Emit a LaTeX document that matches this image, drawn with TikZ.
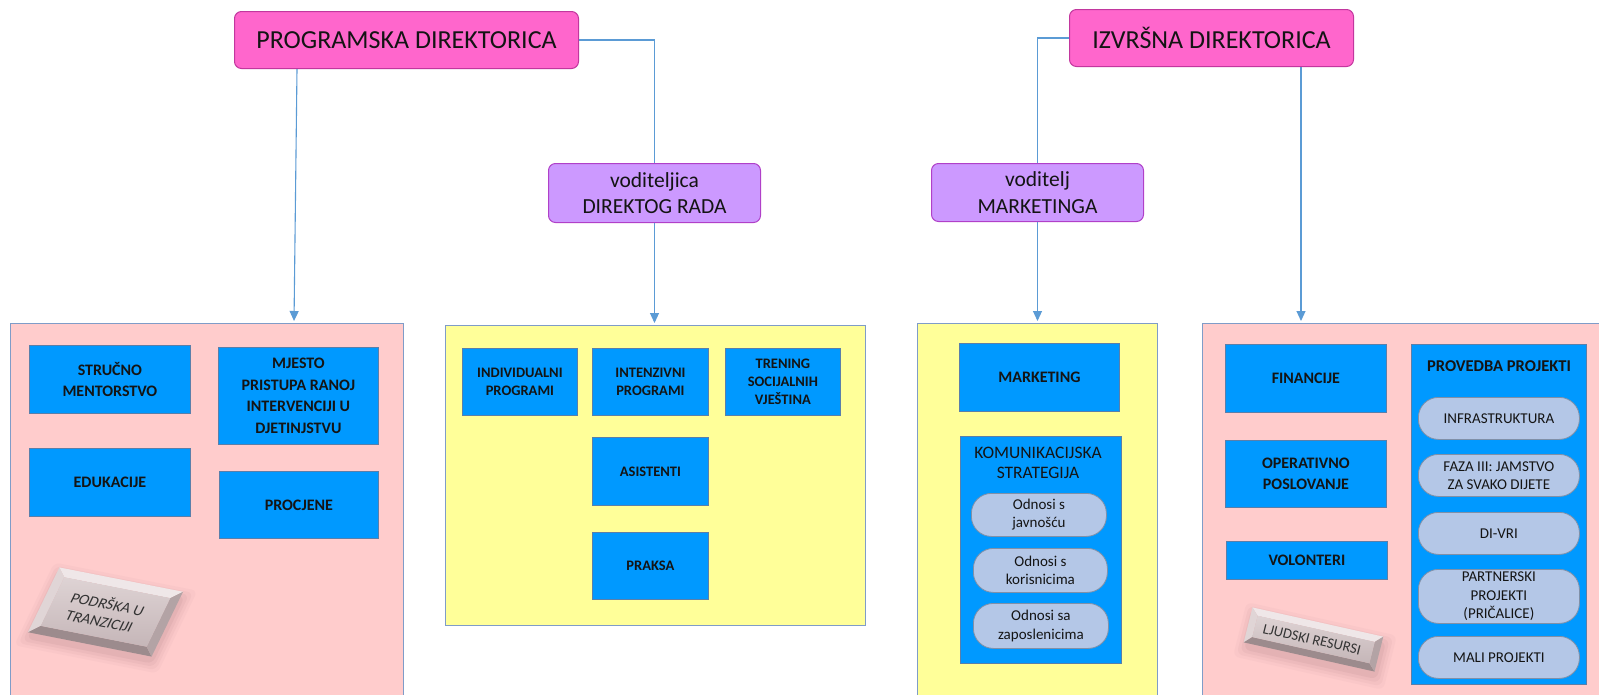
\documentclass[tikz,border=0pt]{standalone}
\usepackage{fontspec}
\setmainfont{Carlito}
\usetikzlibrary{arrows.meta,calc}
\definecolor{hdrfill}{HTML}{FF66CC}
\definecolor{hdrdraw}{HTML}{C2379E}
\definecolor{mgrfill}{HTML}{CC99FF}
\definecolor{mgrdraw}{HTML}{B040C8}
\definecolor{pinkpanel}{HTML}{FFCCCC}
\definecolor{yellowpanel}{HTML}{FFFF99}
\definecolor{panelborder}{HTML}{7F9CC8}
\definecolor{bluebox}{HTML}{0099FF}
\definecolor{blueborder}{HTML}{5A7FAA}
\definecolor{pillfill}{HTML}{B4C7E7}
\definecolor{pillborder}{HTML}{8090A8}
\definecolor{linkc}{HTML}{5B9BD5}
\definecolor{txt}{HTML}{141414}
\definecolor{btnlight}{HTML}{EFE7E8}
\definecolor{btnleft}{HTML}{E0D5D6}
\definecolor{btndark}{HTML}{9C8B8D}
\definecolor{btnright}{HTML}{B3A3A5}
\definecolor{btnfaceA}{HTML}{DED3D4}
\definecolor{btnfaceB}{HTML}{C5B6B8}
\definecolor{btnshadow}{HTML}{A87C80}
\newcommand\mybevel[9]{%
  % #1 center x, #2 center y, #3 a, #4 b, #5 c, #6 d, #7 w, #8 h, #9 bevel
  \begin{scope}[shift={(#1,#2)}, cm={#3,#4,#5,#6,(0,0)}]
    \foreach \s/\o in {10/0.05,7/0.07,4/0.09,1/0.12}{
      \fill[btnshadow, opacity=\o, rounded corners=6pt]
        ({-#7/2-\s+3},{-#8/2-\s+6}) rectangle ({#7/2+\s+3},{#8/2+\s+6});
    }
    \fill[btnlight] ({-#7/2},{-#8/2}) -- ({#7/2},{-#8/2}) -- ({#7/2-#9},{-#8/2+#9}) -- ({-#7/2+#9},{-#8/2+#9}) -- cycle;
    \fill[btnleft] ({-#7/2},{-#8/2}) -- ({-#7/2+#9},{-#8/2+#9}) -- ({-#7/2+#9},{#8/2-#9}) -- ({-#7/2},{#8/2}) -- cycle;
    \fill[btndark] ({-#7/2},{#8/2}) -- ({-#7/2+#9},{#8/2-#9}) -- ({#7/2-#9},{#8/2-#9}) -- ({#7/2},{#8/2}) -- cycle;
    \fill[btnright] ({#7/2},{-#8/2}) -- ({#7/2},{#8/2}) -- ({#7/2-#9},{#8/2-#9}) -- ({#7/2-#9},{-#8/2+#9}) -- cycle;
    \shade[top color=btnfaceA, bottom color=btnfaceB] ({-#7/2+#9},{-#8/2+#9}) rectangle ({#7/2-#9},{#8/2-#9});
  \end{scope}}
\begin{document}
\begin{tikzpicture}[x=1pt,y=-1pt,
  hdr/.style={draw=hdrdraw, fill=hdrfill, rounded corners=7pt, line width=1pt, inner sep=0pt, anchor=north west, text=txt, font=\fontsize{26}{30}\selectfont},
  mgr/.style={draw=mgrdraw, fill=mgrfill, rounded corners=7pt, line width=1pt, inner sep=0pt, anchor=north west, align=center, text=txt, font=\fontsize{21.5}{26.5}\selectfont},
  panel/.style={draw=panelborder, line width=1pt, inner sep=0pt, anchor=north west},
  bbox/.style={draw=blueborder, fill=bluebox, line width=0.8pt, inner sep=0pt, anchor=north west, align=center, text=txt},
  lbox/.style={bbox, font=\fontsize{16}{21.5}\selectfont\bfseries},
  mbox/.style={bbox, font=\fontsize{14.5}{18.3}\selectfont\bfseries},
  rbox/.style={bbox, font=\fontsize{16}{20.7}\selectfont\bfseries},
  pill/.style={draw=pillborder, fill=pillfill, line width=0.8pt, rounded corners=20pt, inner sep=0pt, anchor=north west, align=center, text=txt, font=\fontsize{15}{18.3}\selectfont},
  ctitle/.style={inner sep=0pt, align=center, text=txt},
  link/.style={draw=linkc, line width=1.1pt},
  arr/.style={link, -{Triangle[length=10pt,width=9pt]}, shorten >=2pt},
  btntext/.style={transform shape, inner sep=0pt, align=center, text=black!80}]
\clip (0,0) rectangle (1599,694);
\fill[white] (0,0) rectangle (1599,694);

% panels
\node[panel, fill=pinkpanel, minimum width=393pt, minimum height=400pt] (lp) at (10,323) {};
\node[panel, fill=yellowpanel, minimum width=420pt, minimum height=300pt] (mp) at (445,325) {};
\node[panel, fill=yellowpanel, minimum width=240pt, minimum height=400pt] (kp) at (917,323) {};
\node[panel, fill=pinkpanel, minimum width=420pt, minimum height=400pt] (rp) at (1202,323) {};

% headers
\node[hdr, minimum width=344pt, minimum height=57pt] (h1) at (234,11) {PROGRAMSKA DIREKTORICA};
\node[hdr, minimum width=284pt, minimum height=57pt] (h2) at (1069,9) {IZVRŠNA DIREKTORICA};
\node[mgr, minimum width=212pt, minimum height=59pt] (m1) at (548,163) {voditeljica\\DIREKTOG RADA};
\node[mgr, minimum width=212pt, minimum height=58pt] (m2) at (931,163) {voditelj\\MARKETINGA};

% left panel
\node[lbox, minimum width=161pt, minimum height=68pt] (strucno) at (29,345) {STRUČNO\\MENTORSTVO};
\node[lbox, minimum width=160pt, minimum height=97pt] (mjesto) at (218,347) {MJESTO\\PRISTUPA RANOJ\\INTERVENCIJI U\\DJETINJSTVU};
\node[lbox, minimum width=161pt, minimum height=68pt] (edukacije) at (29,448) {EDUKACIJE};
\node[lbox, minimum width=159pt, minimum height=67pt] (procjene) at (219,471) {PROCJENE};

% middle panel
\node[mbox, minimum width=115pt, minimum height=67pt] (indiv) at (462,348) {INDIVIDUALNI\\PROGRAMI};
\node[mbox, minimum width=116pt, minimum height=67pt] (intenz) at (592,348) {INTENZIVNI\\PROGRAMI};
\node[mbox, minimum width=115pt, minimum height=67pt] (trening) at (725,348) {TRENING\\SOCIJALNIH\\VJEŠTINA};
\node[mbox, minimum width=116pt, minimum height=68pt] (asist) at (592,437) {ASISTENTI};
\node[mbox, minimum width=116pt, minimum height=67pt] (praksa) at (592,532) {PRAKSA};

% marketing panel
\node[rbox, minimum width=160pt, minimum height=68pt] (mkt) at (959,343) {MARKETING};
\node[bbox, minimum width=161pt, minimum height=227pt] (kom) at (960,436) {};
\node[ctitle, font=\fontsize{17.5}{20}\selectfont] (komt) at (1038,463) {KOMUNIKACIJSKA\\STRATEGIJA};
\node[pill, minimum width=135pt, minimum height=43pt] (pjav) at (971,493) {Odnosi s\\javnošću};
\node[pill, minimum width=134pt, minimum height=44pt] (pkor) at (973,548) {Odnosi s\\korisnicima};
\node[pill, minimum width=135pt, minimum height=45pt] (pzap) at (973,603) {Odnosi sa\\zaposlenicima};

% right panel
\node[rbox, minimum width=161pt, minimum height=68pt] (fin) at (1225,344) {FINANCIJE};
\node[rbox, minimum width=161pt, minimum height=67pt] (oper) at (1225,440) {OPERATIVNO\\POSLOVANJE};
\node[rbox, minimum width=161pt, minimum height=38pt] (volont) at (1226,541) {VOLONTERI};
\node[bbox, minimum width=175pt, minimum height=340pt] (prov) at (1411,344) {};
\node[ctitle, font=\fontsize{16.5}{20}\selectfont\bfseries] (provt) at (1499,366) {PROVEDBA PROJEKTI};
\node[pill, minimum width=161pt, minimum height=42pt] (infra) at (1418,397) {INFRASTRUKTURA};
\node[pill, minimum width=161pt, minimum height=42pt] (faza) at (1418,454) {FAZA III: JAMSTVO\\ZA SVAKO DIJETE};
\node[pill, minimum width=161pt, minimum height=42pt] (divri) at (1418,512) {DI-VRI};
\node[pill, minimum width=161pt, minimum height=54pt] (partner) at (1418,569) {PARTNERSKI\\PROJEKTI\\(PRIČALICE)};
\node[pill, minimum width=161pt, minimum height=42pt] (mali) at (1418,636) {MALI PROJEKTI};

% bevel buttons
\mybevel{105.5}{612}{0.981}{-0.193}{0.436}{0.9}{126}{72}{9}
\begin{scope}[shift={(104,612)}, cm={0.981,-0.193,0.436,0.9,(0,0)}]
  \node[btntext, font=\fontsize{15.5}{19}\selectfont] (podrska) at (0,0) {PODRŠKA U\\TRANZICIJI};
\end{scope}
\mybevel{1313.5}{639.5}{0.976}{-0.218}{0.243}{0.97}{134}{36}{7}
\begin{scope}[shift={(1312,639.5)}, cm={0.976,-0.218,0.243,0.97,(0,0)}]
  \node[btntext, font=\fontsize{14.6}{18}\selectfont] (ljudski) at (0,0) {LJUDSKI RESURSI};
\end{scope}

% connectors
\draw[link] (h1.east) -- (h1.east -| m1.north) -- (m1.north);
\draw[arr] (m1.south) -- (m1.south |- mp.north);
\draw[arr] (h1.south -| 297,0) -- (lp.north -| 294,0);
\draw[link] (h2.west) -- (h2.west -| m2.north) -- (m2.north);
\draw[arr] (m2.south) -- (m2.south |- kp.north);
\draw[arr] (h2.south -| 1301,0) -- (rp.north -| 1301,0);
\end{tikzpicture}
\end{document}
